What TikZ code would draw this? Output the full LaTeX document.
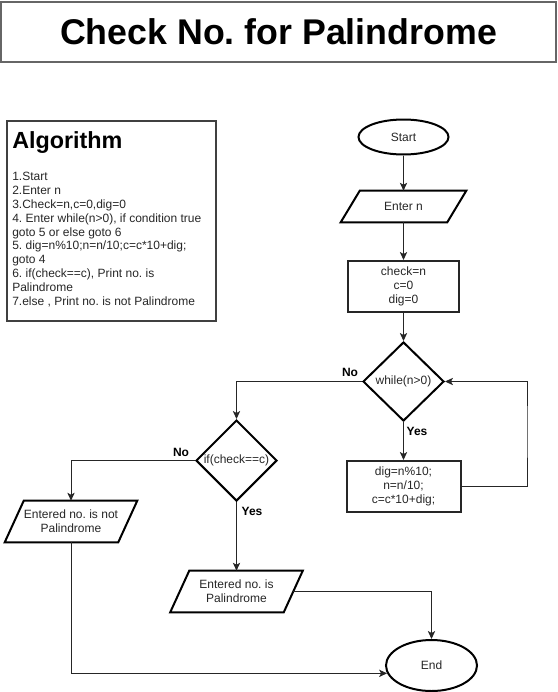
\documentclass[tikz,border=0pt]{standalone}
\usepackage{fontspec}
\setmainfont{Liberation Sans}
\usetikzlibrary{shapes.geometric,arrows.meta}
\frenchspacing
% slanted outline round an input/output node
\newcommand\ioframe[1]{\draw[line width=1.5pt,line join=miter]
  ([xshift=7.125pt]#1.north west) -- ([xshift=7.125pt]#1.north east) --
  ([xshift=-7.125pt]#1.south east) -- ([xshift=-7.125pt]#1.south west) -- cycle;}
\begin{document}
\begin{tikzpicture}[x=0.75pt,y=-0.75pt,
    every node/.style={font=\fontsize{9}{10.5}\selectfont,text=black!85},
    term/.style={ellipse,draw=black,line width=1.5pt,inner sep=0pt},
    io/.style={rectangle,inner sep=0pt,align=center},
    proc/.style={rectangle,draw=black!85,line width=1.5pt,inner sep=0pt,align=center},
    test/.style={diamond,draw=black,line width=1.5pt,inner sep=0pt},
    lbl/.style={font=\fontsize{9}{10.5}\selectfont\bfseries,text=black},
    flow/.style={-{Stealth[length=6pt,width=5.5pt,inset=1.5pt]},line width=0.75pt,draw=black!85}]
  \useasboundingbox (0,0) rectangle (557,692);
  % title and algorithm
  \node[rectangle,draw=black!60,line width=1.5pt,minimum width=416.25pt,minimum height=45pt,
    font=\fontsize{26.8}{30}\selectfont\bfseries,text=black] (title) at (278.5,32) {Check No. for Palindrome};
  \node[rectangle,draw=black!75,line width=1.5pt,minimum width=156.75pt,minimum height=150pt] (alg) at (111.5,221) {};
  \node[anchor=base west,inner sep=0pt,font=\fontsize{17.5}{20}\selectfont\bfseries,text=black] (algtitle) at (12,148) {Algorithm};
  \node[anchor=north west,inner sep=0pt,align=left,font=\fontsize{9}{10.4}\selectfont] (algsteps) at (12,172)
    {1.Start\\2.Enter n\\3.Check=n,c=0,dig=0\\4. Enter while(n>0), if condition true\\goto 5 or else goto 6\\
     5. dig=n\%10;n=n/10;c=c*10+dig;\\goto 4\\6. if(check==c), Print no. is\\Palindrome\\7.else , Print no. is not Palindrome};
  % flowchart
  \node[term,minimum width=67.5pt,minimum height=26.25pt] (start) at (403.5,137) {Start};
  \node[io,minimum width=79.5pt,minimum height=23.25pt] (entern) at (403.5,206.5) {Enter n};
  \node[proc,minimum width=83.25pt,minimum height=38.25pt] (init) at (403.5,286.5) {check=n\\c=0\\dig=0};
  \node[test,minimum width=60.75pt,minimum height=59.25pt] (while) at (403.5,381.5) {while(n>0)};
  \node[proc,minimum width=85.5pt,minimum height=38.25pt] (body) at (403.5,486.5) {dig=n\%10;\\n=n/10;\\c=c*10+dig;};
  \node[test,minimum width=60.75pt,minimum height=60.75pt] (if) at (236.5,460.5) {if(check==c)};
  \node[io,minimum width=84.75pt,minimum height=30.75pt] (notpal) at (71,521.5) {Entered no. is not\\Palindrome};
  \node[io,minimum width=84.75pt,minimum height=30.75pt] (pal) at (236.5,591.5) {Entered no. is\\Palindrome};
  \node[term,minimum width=68.25pt,minimum height=38.25pt] (end) at (431.5,665.5) {End};
  \ioframe{entern}
  \ioframe{notpal}
  \ioframe{pal}
  \coordinate (loop) at (527,430);
  % labels
  \node[lbl] (nowhile) at (350,372) {No};
  \node[lbl] (yeswhile) at (417,431) {Yes};
  \node[lbl] (noif) at (181,452) {No};
  \node[lbl] (yesif) at (252,511) {Yes};
  \begin{scope}[flow]
    \draw (start) -- (entern);
    \draw (entern) -- (init);
    \draw (init) -- (while);
    \draw (while) -- (body);
    \draw (body.east) -| (loop) |- (while.east);
    \draw (while.west) -| (if.north);
    \draw (if.west) -| (notpal.north);
    \draw (if.south) -- (pal.north);
    \draw (pal.east) -| (end.north);
    \draw (notpal.south) |- (end.190);
  \end{scope}
\end{tikzpicture}
\end{document}
